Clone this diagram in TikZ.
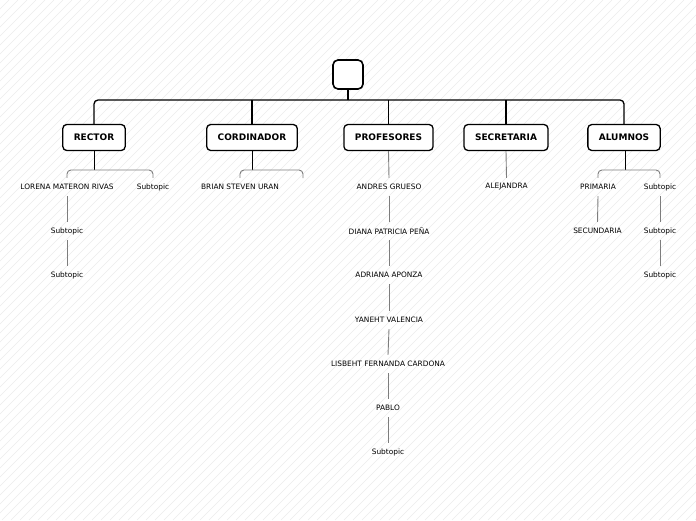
\documentclass[tikz,border=0pt]{standalone}
\usepackage{fontspec}
\setmainfont{DejaVu Sans}
\usetikzlibrary{positioning}
\definecolor{subgray}{RGB}{125,125,125}
\definecolor{hatchgray}{RGB}{236,236,236}

\tikzset{
  rootbox/.style={draw, line width=1.6pt, rounded corners=5pt, fill=white,
    minimum width=30pt, minimum height=29pt},
  topic/.style={draw, line width=1.3pt, rounded corners=4pt, fill=white,
    minimum height=26pt, inner xsep=11pt,
    font=\fontsize{9}{11}\selectfont\bfseries},
  subtopic/.style={minimum height=18pt, inner sep=1pt,
    font=\fontsize{7.4}{9}\selectfont},
  mainline/.style={line width=1.3pt},
  forkline/.style={line width=0.9pt},
  subline/.style={draw=subgray, line width=0.9pt},
  hatch/.style={draw=hatchgray, line width=0.5pt},
}

\begin{document}
\begin{tikzpicture}[x=1pt,y=-1pt]

%---------------------------------------
% Canvas and background
%---------------------------------------
\useasboundingbox (0,0) rectangle (696,520);
\begin{scope}
  \clip (0,0) rectangle (696,520);
  \foreach \i in {-520,-511,...,700}
    \draw[hatch] (\i,520) -- ++(520,-520);
\end{scope}

%---------------------------------------
% Root and main topics
%---------------------------------------
\node[rootbox] (root) at (348,74.5) {};
\coordinate (bus) at (348,100);

\node[topic] (rector)     at (94,137.5)  {RECTOR};
\node[topic] (cordinador) at (252,137.5) {CORDINADOR};
\node[topic] (profesores) at (388.5,137.5) {PROFESORES};
\node[topic] (secretaria) at (506,137.5) {SECRETARIA};
\node[topic] (alumnos)    at (624,137.5) {ALUMNOS};

% bus
\draw[mainline] (root.south) -- (bus);
\draw[mainline, rounded corners=4pt] (rector.north) |- (bus) -| (alumnos.north);
\foreach \t in {cordinador,profesores,secretaria}
  \draw[mainline] (\t.north) -- (\t.north |- bus);

%---------------------------------------
% Subtopics
%---------------------------------------
% RECTOR
\node[subtopic] (lorena)   at (67,187)  {LORENA MATERON RIVAS};
\node[subtopic] (rectorb)  at (153,187) {Subtopic};
\node[subtopic] (rectora1) at (67,231)  {Subtopic};
\node[subtopic] (rectora2) at (67,275)  {Subtopic};

% CORDINADOR
\node[subtopic] (brian) at (240,187) {BRIAN STEVEN URAN};
\coordinate (cordend) at (303,178);

% PROFESORES
\node[subtopic] (andres)  at (389,187) {ANDRES GRUESO};
\node[subtopic] (diana)   at (389,231) {DIANA PATRICIA PEÑA};
\node[subtopic] (adriana) at (389,275) {ADRIANA APONZA};
\node[subtopic] (yaneht)  at (389,320) {YANEHT VALENCIA};
\node[subtopic] (lisbeht) at (388,364) {LISBEHT FERNANDA CARDONA};
\node[subtopic] (pablo)   at (388,408) {PABLO};
\node[subtopic] (profsub) at (388,452) {Subtopic};

% SECRETARIA
\node[subtopic] (alejandra) at (506.5,187) {ALEJANDRA};

% ALUMNOS
\node[subtopic] (primaria)   at (598,187) {PRIMARIA};
\node[subtopic] (alumnosb)   at (660,187) {Subtopic};
\node[subtopic] (secundaria) at (597.5,231) {SECUNDARIA};
\node[subtopic] (alumnosb1)  at (660,231) {Subtopic};
\node[subtopic] (alumnosb2)  at (660,275) {Subtopic};

%---------------------------------------
% Forks and chains
%---------------------------------------
\coordinate (rectorfork)  at (94,170);
\coordinate (cordfork)    at (252,170);
\coordinate (alumnosfork) at (625,170);

\draw[forkline] (rector.south) -- (rectorfork);
\draw[forkline] (cordinador.south) -- (cordfork);
\draw[forkline] (alumnos.south -| alumnosfork) -- (alumnosfork);

\draw[subline, rounded corners=4pt] (lorena.north) |- (rectorfork) -| (rectorb.north);
\draw[subline, rounded corners=4pt] (brian.north) |- (cordfork) -| (cordend);
\draw[subline, rounded corners=4pt] (primaria.north) |- (alumnosfork) -| (alumnosb.north);

\draw[subline] (profesores.south) -- (andres.north);
\draw[subline] (secretaria.south) -- (alejandra.north);

\foreach \a/\b in {lorena/rectora1, rectora1/rectora2,
    andres/diana, diana/adriana, adriana/yaneht, yaneht/lisbeht,
    lisbeht/pablo, pablo/profsub,
    primaria/secundaria, alumnosb/alumnosb1, alumnosb1/alumnosb2}
  \draw[subline] (\a.south) -- (\b.north);

\end{tikzpicture}
\end{document}
